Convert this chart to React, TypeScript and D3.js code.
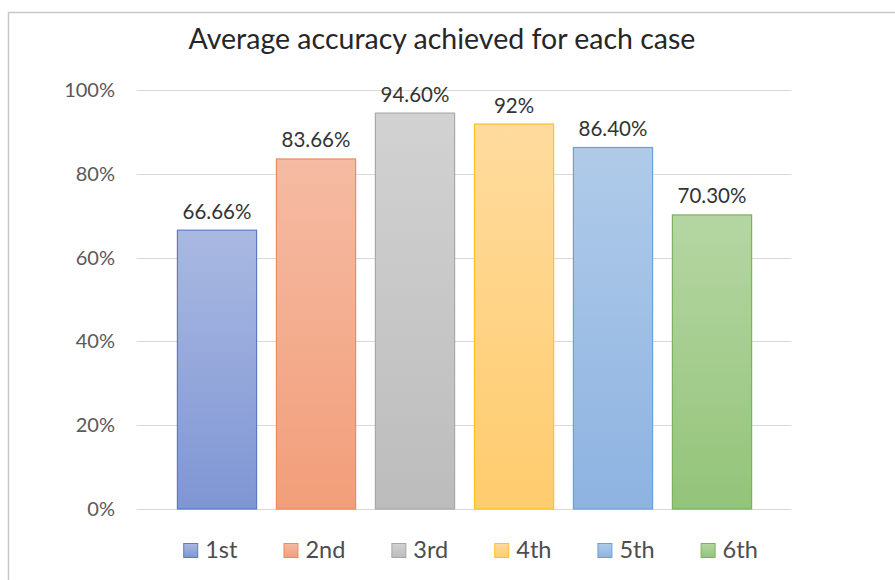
import React, { useEffect, useRef } from "react";
import * as d3 from "d3";

const categories = ["1st", "2nd", "3rd", "4th", "5th", "6th"];
const values = [66.66, 83.66, 94.6, 92, 86.4, 70.3];
const valueLabels = ["66.66%", "83.66%", "94.60%", "92%", "86.40%", "70.30%"];
const yTicks = [0, 20, 40, 60, 80, 100];
const title = "Average accuracy achieved for each case";

const fillTop = ["#aab9e2", "#f5bba3", "#d2d2d2", "#ffdb9e", "#b0cbe9", "#b5d6a3"];
const fillBottom = ["#7f96d4", "#f29e7a", "#bcbcbc", "#ffcc6e", "#8db3e1", "#93c479"];
const strokes = ["#5b7bc8", "#ee8a5c", "#a8a8a8", "#ffc21f", "#6ea0d8", "#7bb35a"];

const W = 895;
const H = 580;
const FONT = "Lato, 'Open Sans', sans-serif";

export default function App() {
  const ref = useRef<SVGSVGElement>(null);

  useEffect(() => {
    const svg = d3.select(ref.current);
    svg.selectAll("*").remove();

    const gridLeft = 137;
    const gridRight = 791;
    const y = d3.scaleLinear().domain([0, 100]).range([509, 90]);
    const x = d3
      .scaleBand<string>()
      .domain(categories)
      .range([167.5, 761.5])
      .paddingInner(0.19)
      .paddingOuter(0.095);

    const defs = svg.append("defs");
    categories.forEach((c, i) => {
      const g = defs
        .append("linearGradient")
        .attr("id", `grad${i}`)
        .attr("x1", 0)
        .attr("y1", 0)
        .attr("x2", 0)
        .attr("y2", 1);
      g.append("stop").attr("offset", "0%").attr("stop-color", fillTop[i]);
      g.append("stop").attr("offset", "100%").attr("stop-color", fillBottom[i]);
    });

    // chart border
    svg
      .append("rect")
      .attr("x", 8.5)
      .attr("y", 12.5)
      .attr("width", W + 20)
      .attr("height", H + 20)
      .attr("fill", "#fff")
      .attr("stroke", "#c8c8c8")
      .attr("stroke-width", 1.5);

    // title
    svg
      .append("text")
      .attr("x", 442)
      .attr("y", 49)
      .attr("text-anchor", "middle")
      .attr("font-family", FONT)
      .attr("font-size", 28.5)
      .attr("fill", "#262626")
      .text(title);

    // gridlines
    svg
      .append("g")
      .selectAll("line")
      .data(yTicks)
      .join("line")
      .attr("x1", gridLeft)
      .attr("x2", gridRight)
      .attr("y1", (d) => Math.round(y(d)) + 0.5)
      .attr("y2", (d) => Math.round(y(d)) + 0.5)
      .attr("stroke", "#d9d9d9")
      .attr("stroke-width", 1.2);

    // y tick labels
    svg
      .append("g")
      .selectAll("text")
      .data(yTicks)
      .join("text")
      .attr("x", 115)
      .attr("y", (d) => y(d) + 7)
      .attr("text-anchor", "end")
      .attr("font-family", FONT)
      .attr("font-size", 20)
      .attr("fill", "#595959")
      .text((d) => `${d}%`);

    // bars
    svg
      .append("g")
      .selectAll("rect")
      .data(values)
      .join("rect")
      .attr("x", (_, i) => x(categories[i])! + 0.5)
      .attr("y", (d) => y(d) + 0.5)
      .attr("width", x.bandwidth() - 1)
      .attr("height", (d) => y(0) - y(d) - 0.5)
      .attr("fill", (_, i) => `url(#grad${i})`)
      .attr("stroke", (_, i) => strokes[i])
      .attr("stroke-width", 1.2);

    // value labels
    svg
      .append("g")
      .selectAll("text")
      .data(values)
      .join("text")
      .attr("x", (_, i) => x(categories[i])! + x.bandwidth() / 2)
      .attr("y", (d) => y(d) - 11)
      .attr("text-anchor", "middle")
      .attr("font-family", FONT)
      .attr("font-size", 20.5)
      .attr("fill", "#333333")
      .text((_, i) => valueLabels[i]);

    // legend
    const legend = svg.append("g");
    const sq = 15;
    const gap = 7;
    const spacing = 46;
    const items = categories.map((c, i) => {
      const g = legend.append("g");
      g.append("rect")
        .attr("x", 0.5)
        .attr("y", 543.5)
        .attr("width", sq - 1)
        .attr("height", sq - 1)
        .attr("fill", `url(#grad${i})`)
        .attr("stroke", strokes[i])
        .attr("stroke-width", 1);
      const t = g
        .append("text")
        .attr("x", sq + gap)
        .attr("y", 558)
        .attr("font-family", FONT)
        .attr("font-size", 23.5)
        .attr("fill", "#4d4d4d")
        .text(c);
      const w = (t.node() as SVGTextElement).getComputedTextLength();
      return { g, w: sq + gap + w };
    });
    const total = d3.sum(items, (d) => d.w) + spacing * (items.length - 1);
    let cx = 470.5 - total / 2;
    items.forEach((it) => {
      it.g.attr("transform", `translate(${cx},0)`);
      cx += it.w + spacing;
    });
  }, []);

  return (
    <svg
      ref={ref}
      width={W}
      height={H}
      style={{ position: "absolute", left: 0, top: 0, background: "#fff" }}
    />
  );
}
